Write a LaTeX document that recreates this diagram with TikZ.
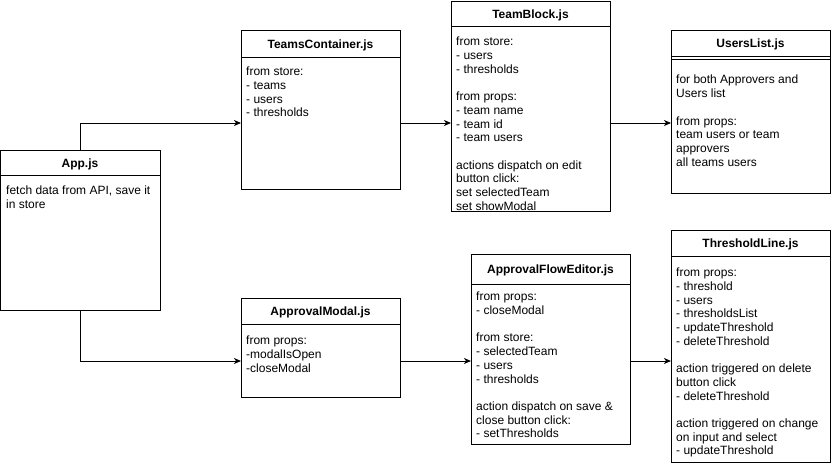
\documentclass[tikz,border=0pt]{standalone}
\usepackage{fontspec}
\setmainfont{Liberation Sans}
\usetikzlibrary{arrows.meta}
\begin{document}
\begin{tikzpicture}[x=1pt,y=-1pt,
  box/.style={draw, line width=1pt, rectangle, outer sep=0pt, inner sep=0pt, anchor=north west},
  sep/.style={line width=1pt},
  hdr/.style={font=\bfseries\fontsize{12}{14}\selectfont, inner sep=0pt, anchor=base},
  body/.style={font=\fontsize{12}{13.7}\selectfont, align=left, anchor=north west, inner sep=0pt},
  conn/.style={line width=1pt, -{Stealth[length=7pt,width=6pt,inset=2pt]}}]
\useasboundingbox (0,0) rectangle (831,472);
\coordinate (lvlA) at (0,123);
\coordinate (lvlB) at (0,361);

% App.js
\node[box, minimum width=159.5pt, minimum height=160pt] (app) at (0.5,150) {};
\draw[sep] ([yshift=-25pt]app.north west) -- ([yshift=-25pt]app.north east);
\node[hdr] (apph) at (80,167) {App.js};
\node[body] (appb) at (6,186) {fetch data from API, save it\\in store};

% TeamsContainer.js
\node[box, minimum width=159pt, minimum height=159pt] (tc) at (241,30) {};
\draw[sep] ([yshift=-27pt]tc.north west) -- ([yshift=-27pt]tc.north east);
\node[hdr] (tch) at (320.5,48) {TeamsContainer.js};
\node[body] (tcb) at (246,67) {from store:\\- teams\\- users\\- thresholds};

% TeamBlock.js
\node[box, minimum width=159pt, minimum height=210pt] (tb) at (451,1) {};
\draw[sep] ([yshift=-25pt]tb.north west) -- ([yshift=-25pt]tb.north east);
\node[hdr] (tbh) at (530.5,18) {TeamBlock.js};
\node[body] (tbb) at (456,37) {from store:\\- users\\- thresholds\\[13.7pt]from props:\\- team name\\- team id\\- team users\\[13.7pt]actions dispatch on edit\\button click:\\set selectedTeam\\set showModal};

% UsersList.js
\node[box, minimum width=159pt, minimum height=163pt] (ul) at (671,30) {};
\draw[sep] ([yshift=-26pt]ul.north west) -- ([yshift=-26pt]ul.north east);
\draw[sep] ([yshift=-29pt]ul.north west) -- ([yshift=-29pt]ul.north east);
\node[hdr] (ulh) at (750.5,47.5) {UsersList.js};
\node[body] (ulb) at (676,75) {for both Approvers and\\Users list\\[13.7pt]from props:\\team users or team\\approvers\\all teams users};

% ApprovalModal.js
\node[box, minimum width=159pt, minimum height=99pt] (am) at (241,298) {};
\draw[sep] ([yshift=-26pt]am.north west) -- ([yshift=-26pt]am.north east);
\node[hdr] (amh) at (320.5,315.5) {ApprovalModal.js};
\node[body] (amb) at (246,336) {from props:\\-modalIsOpen\\-closeModal};

% ApprovalFlowEditor.js
\node[box, minimum width=159pt, minimum height=190pt] (afe) at (471,254) {};
\draw[sep] ([yshift=-30pt]afe.north west) -- ([yshift=-30pt]afe.north east);
\node[hdr] (afeh) at (550.5,273.5) {ApprovalFlowEditor.js};
\node[body] (afeb) at (476,292) {from props:\\- closeModal\\[13.7pt]from store:\\- selectedTeam\\- users\\- thresholds\\[13.7pt]action dispatch on save \&\\close button click:\\- setThresholds};

% ThresholdLine.js
\node[box, minimum width=159pt, minimum height=232pt] (tl) at (671,230) {};
\draw[sep] ([yshift=-26pt]tl.north west) -- ([yshift=-26pt]tl.north east);
\node[hdr] (tlh) at (750.5,247.5) {ThresholdLine.js};
\node[body] (tlb) at (676,268) {from props:\\- threshold\\- users\\- thresholdsList\\- updateThreshold\\- deleteThreshold\\[13.7pt]action triggered on delete\\button click\\- deleteThreshold\\[13.7pt]action triggered on change\\on input and select\\- updateThreshold};

% connectors
\draw[conn] (app.north) |- (tc.west |- lvlA);
\draw[conn] (tc.east |- lvlA) -- (tb.west |- lvlA);
\draw[conn] (tb.east |- lvlA) -- (ul.west |- lvlA);
\draw[conn] (app.south) |- (am.west |- lvlB);
\draw[conn] (am.east |- lvlB) -- (afe.west |- lvlB);
\draw[conn] (afe.east |- lvlB) -- (tl.west |- lvlB);
\end{tikzpicture}
\end{document}
